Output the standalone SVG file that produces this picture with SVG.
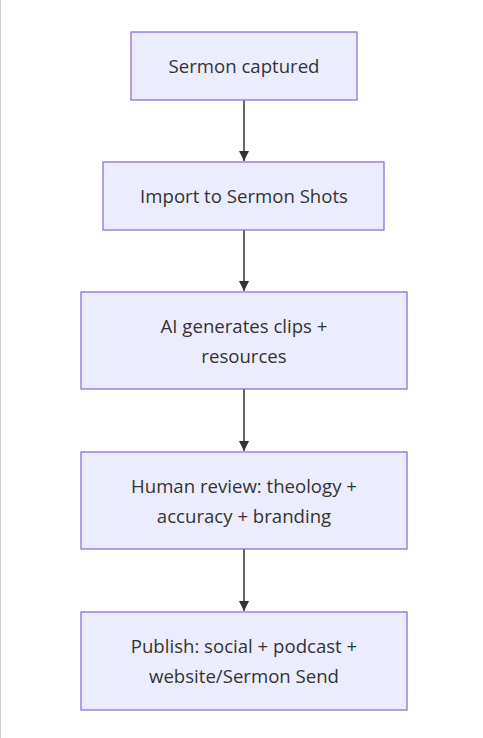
<svg xmlns="http://www.w3.org/2000/svg" width="483" height="738" viewBox="0 0 483 738">
<style>
.node rect{fill:#ECECFF;stroke:#9370DB;stroke-width:1.3}
.node text{font-family:"Open Sans","DejaVu Sans",sans-serif;font-size:18.6px;fill:#333;text-anchor:middle}
.edge{stroke:#666;stroke-width:2;fill:none}
</style>
<defs>
<marker id="arr" viewBox="0 0 10 10" refX="10" refY="5" markerWidth="10" markerHeight="10" markerUnits="userSpaceOnUse" orient="auto">
<path d="M0,0 L10,5 L0,10 z" fill="#333"/>
</marker>
</defs>
<rect x="0" y="0" width="483" height="738" fill="#fff"/>
<line x1="0.5" y1="0" x2="0.5" y2="738" stroke="#ccc" stroke-width="1"/>
<g id="edges">
<path class="edge" d="M244,100 V161" marker-end="url(#arr)"/>
<path class="edge" d="M244,230 V291" marker-end="url(#arr)"/>
<path class="edge" d="M244,389 V451" marker-end="url(#arr)"/>
<path class="edge" d="M244,549 V611" marker-end="url(#arr)"/>
</g>
<g id="n1" class="node"><rect x="131" y="32" width="226" height="68"/><text x="244" y="73">Sermon captured</text></g>
<g id="n2" class="node"><rect x="103" y="162" width="281" height="68"/><text x="244" y="203">Import to Sermon Shots</text></g>
<g id="n3" class="node"><rect x="81" y="292" width="326" height="97"/><text x="244" y="333">AI generates clips +</text><text x="244" y="363">resources</text></g>
<g id="n4" class="node"><rect x="81" y="452" width="326" height="97"/><text x="244" y="493">Human review: theology +</text><text x="244" y="523">accuracy + branding</text></g>
<g id="n5" class="node"><rect x="81" y="612" width="326" height="98"/><text x="244" y="653">Publish: social + podcast +</text><text x="244" y="683">website/Sermon Send</text></g>
</svg>
